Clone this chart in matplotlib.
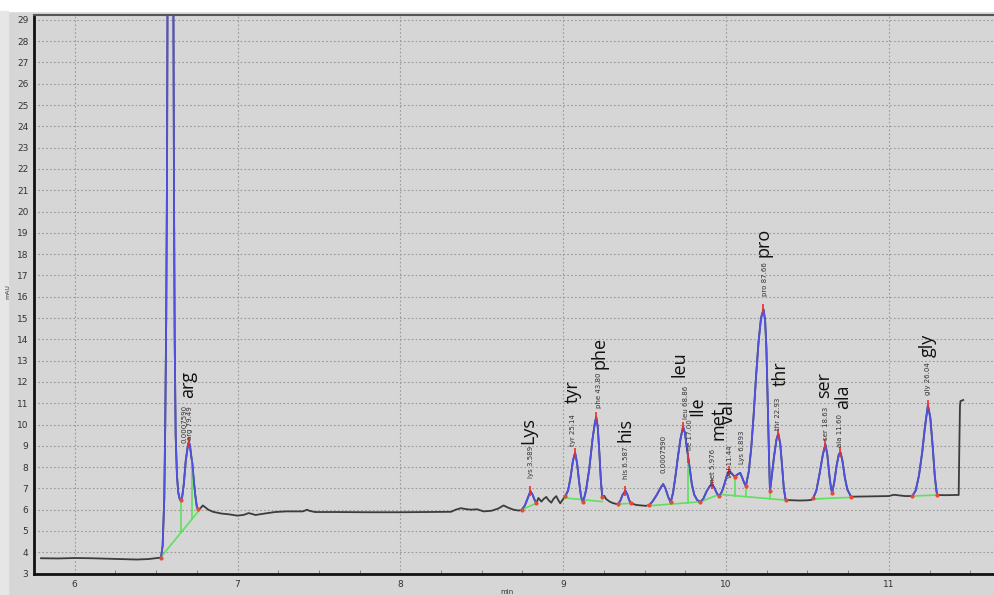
import numpy as np
import matplotlib.pyplot as plt
from matplotlib.patches import Rectangle

# retention time (min) / absorbance (mAU)
t = [5.793, 5.9, 6.0, 6.1, 6.2, 6.3, 6.38, 6.45,
     6.530, 6.540, 6.550, 6.556, 6.562, 6.567, 6.572, 6.580, 6.590, 6.600, 6.606,
     6.610, 6.614, 6.620, 6.628, 6.636, 6.645, 6.652, 6.660, 6.670, 6.682, 6.695,
     6.701, 6.708, 6.716, 6.722, 6.730, 6.740, 6.750, 6.756,
     6.770, 6.787, 6.80, 6.82, 6.85, 6.90, 6.95, 7.00, 7.04, 7.067, 7.09, 7.11,
     7.15, 7.23, 7.30, 7.40, 7.415, 7.427, 7.44, 7.476, 7.6, 7.8, 8.0, 8.2, 8.311,
     8.34, 8.372, 8.40, 8.433, 8.47, 8.512, 8.56, 8.60, 8.634, 8.66, 8.695, 8.725,
     8.744, 8.765, 8.785, 8.799, 8.812, 8.825, 8.835,
     8.848, 8.866, 8.88, 8.896, 8.91, 8.927, 8.94, 8.957, 8.97, 8.982, 8.995,
     9.012, 9.03, 9.045, 9.06, 9.073, 9.085, 9.098, 9.11, 9.122,
     9.14, 9.16, 9.18, 9.195, 9.203, 9.212, 9.222, 9.232, 9.240,
     9.252, 9.264, 9.285, 9.305, 9.32,
     9.335, 9.35, 9.365, 9.382, 9.395, 9.405, 9.416,
     9.45, 9.48, 9.508,
     9.529, 9.55, 9.575, 9.60, 9.614, 9.628, 9.645, 9.660,
     9.675, 9.69, 9.705, 9.72, 9.736, 9.748, 9.758, 9.768, 9.778, 9.79, 9.805,
     9.823, 9.843,
     9.86, 9.88, 9.90, 9.915, 9.93, 9.945, 9.959,
     9.975, 9.99, 10.005, 10.020, 10.035, 10.053, 10.07, 10.087, 10.10, 10.112,
     10.122,
     10.14, 10.155, 10.169, 10.185, 10.20, 10.215, 10.230, 10.24, 10.248, 10.255,
     10.26, 10.265, 10.270,
     10.28, 10.295, 10.31, 10.321, 10.333, 10.345, 10.355, 10.366,
     10.382, 10.45, 10.50, 10.524,
     10.535, 10.555, 10.575, 10.595, 10.610, 10.622, 10.635, 10.645, 10.652,
     10.665, 10.68, 10.693, 10.703, 10.715, 10.73, 10.745, 10.768,
     10.85, 10.95, 11.00, 11.03, 11.053, 11.10,
     11.144, 11.165, 11.185, 11.205, 11.222, 11.240, 11.255, 11.27, 11.282,
     11.292, 11.297,
     11.35, 11.40, 11.429, 11.433, 11.437, 11.440, 11.457]
mau = [3.72, 3.71, 3.73, 3.72, 3.70, 3.68, 3.66, 3.68,
       3.75, 4.3, 6.5, 10.0, 15.0, 22.0, 35.0, 55.0, 62.0, 50.0, 30.0,
       20.5, 14.0, 9.5, 7.6, 6.8, 6.5, 6.45, 6.6, 7.2, 8.3, 9.0,
       9.2, 9.0, 8.5, 8.2, 7.5, 6.7, 6.15, 6.03,
       6.05, 6.2, 6.12, 6.0, 5.9, 5.82, 5.78, 5.72, 5.76, 5.84, 5.8, 5.75,
       5.8, 5.89, 5.92, 5.92, 5.96, 6.0, 5.95, 5.89, 5.89, 5.88, 5.88, 5.89, 5.9,
       6.0, 6.07, 6.03, 6.0, 6.02, 5.92, 5.95, 6.05, 6.2, 6.1, 6.0, 5.96,
       5.98, 6.2, 6.6, 6.87, 6.7, 6.45, 6.31,
       6.55, 6.38, 6.5, 6.6, 6.45, 6.33, 6.5, 6.64, 6.45, 6.3, 6.45,
       6.62, 6.9, 7.5, 8.3, 8.68, 8.2, 7.3, 6.6, 6.34,
       6.9, 7.9, 9.3, 10.1, 10.34, 9.9, 8.7, 7.3, 6.61,
       6.65, 6.5, 6.38, 6.31, 6.28,
       6.26, 6.4, 6.7, 6.89, 6.7, 6.45, 6.3,
       6.22, 6.2, 6.18,
       6.22, 6.4, 6.7, 7.05, 7.2, 7.0, 6.6, 6.34,
       6.8, 7.6, 8.5, 9.3, 9.9, 9.6, 9.0, 8.45, 7.9, 7.2, 6.7,
       6.45, 6.37,
       6.5, 6.85, 7.1, 7.2, 7.0, 6.75, 6.64,
       6.85, 7.2, 7.6, 7.83, 7.7, 7.55, 7.65, 7.73, 7.5, 7.25,
       7.12,
       7.8, 8.9, 10.37, 12.3, 13.9, 15.0, 15.41, 14.9, 13.6,
       11.5, 9.8, 8.2, 6.89,
       7.5, 8.5, 9.3, 9.57, 9.1, 8.0, 7.0, 6.47,
       6.45, 6.43, 6.44, 6.46,
       6.53, 6.9, 7.7, 8.6, 9.07, 8.6, 7.6, 7.0, 6.8,
       7.3, 8.1, 8.6, 8.69, 8.3, 7.5, 6.95, 6.61,
       6.62, 6.63, 6.64, 6.7, 6.68, 6.64,
       6.64, 6.9, 7.6, 8.7, 9.9, 10.91, 10.3, 8.9, 7.6,
       6.9, 6.69,
       6.68, 6.69, 6.69, 9.0, 10.9, 11.1, 11.15]

# integrated windows (drawn blue)
peak_windows = [(6.530, 6.756), (8.744, 8.835), (9.012, 9.240), (9.335, 9.416),
                (9.529, 10.366), (10.535, 10.768), (11.144, 11.297)]

# labelled peaks
peak_names = ['arg', 'Lys', 'tyr', 'phe', 'his', 'leu', 'Ile', 'met', 'val',
              'pro', 'thr', 'ser', 'ala', 'gly']
peak_rt = [6.701, 8.799, 9.073, 9.203, 9.382, 9.736, 9.768, 9.915, 10.020,
           10.230, 10.321, 10.610, 10.703, 11.240]
peak_tags = ['arg 79.49', 'lys 3.589', 'tyr 25.14', 'phe 43.80', 'his 6.587',
             'leu 68.86', 'ile 17.00', 'met 5.976', 'val 11.44', 'pro 87.66',
             'thr 22.93', 'ser 18.63', 'ala 11.60', 'gly 26.04']
# unnamed peaks
extra_rt = [6.695, 9.614, 10.087]
extra_tags = ['0.0007590', '0.0007590', 'Lys 6.893']

boundary_rt = [6.530, 6.652, 6.756, 8.744, 8.835, 9.012, 9.122, 9.240, 9.335,
               9.416, 9.529, 9.660, 9.843, 9.959, 10.053, 10.122, 10.270,
               10.366, 10.535, 10.652, 10.768, 11.144, 11.297]

# baseline / drop lines
base_t = [[6.530, 6.762], [6.652, 6.652], [6.720, 6.720], [8.744, 8.835],
          [9.012, 9.240], [9.335, 9.416], [9.520, 9.843], [9.768, 9.768],
          [9.843, 9.959, 10.366], [10.053, 10.053], [10.122, 10.122],
          [10.270, 10.270], [10.535, 10.768], [11.144, 11.297]]
base_mau = [[3.78, 5.95], [6.45, 4.97], [8.33, 5.55], [6.00, 6.30],
            [6.55, 6.38], [6.26, 6.30], [6.18, 6.37], [8.41, 6.33],
            [6.37, 6.72, 6.45], [7.55, 6.66], [7.12, 6.62],
            [6.89, 6.52], [6.50, 6.58], [6.64, 6.69]]

t = np.array(t)
mau = np.array(mau)

bg = '#d6d6d6'
fig = plt.figure(figsize=(9.95, 5.95), dpi=100, facecolor=bg)
fig.patches.append(Rectangle((0, 1 - 11 / 595), 1, 11 / 595,
                             transform=fig.transFigure, color='white', zorder=0))
fig.patches.append(Rectangle((0, 0), 8 / 995, 1 - 11 / 595,
                             transform=fig.transFigure, color='#e6e6e6', zorder=0))
ax = fig.add_axes([34 / 995, 21 / 595, 1 - 34 / 995, 559 / 595])
ax.set_facecolor(bg)

ax.plot(t, mau, color='#3c3c3c', lw=1.3, zorder=3)
for a, b in peak_windows:
    m = (t >= a - 1e-9) & (t <= b + 1e-9)
    ax.plot(t[m], mau[m], color='#5050e2', lw=1.3, zorder=4)

for bx, by in zip(base_t, base_mau):
    ax.plot(bx, by, color='#5fe05f', lw=1.2, zorder=3.5)

apex_h = np.interp(peak_rt, t, mau)
ax.plot(peak_rt, apex_h, ls='none', marker='|', ms=7, mew=1.2, color='#e83030', zorder=5)
bnd_h = np.interp(boundary_rt, t, mau)
ax.plot(boundary_rt, bnd_h, ls='none', marker='o', ms=2, color='#e84a30', zorder=5)

# offsets in pixels for the small and big labels
tag_off = [(1, 18), (1, 29), (-2, 23), (3, 27), (1, 28), (3, 24), (2, 23),
           (1, 17), (1, 9), (2, 30), (0, 20), (1, 21), (0, 22), (0, 27)]
name_off = [(-1, 57), (-2, 61), (-2, 61), (3, 64), (0, 61), (-4, 62), (9, 51),
            (6, 61), (-1, 58), (0, 67), (2, 60), (-1, 59), (3, 56), (0, 60)]
for rt, h, tag, name, (tx, ty), (nx, ny) in zip(peak_rt, apex_h, peak_tags,
                                               peak_names, tag_off, name_off):
    ax.annotate(tag, (rt, h), xytext=(tx, ty), textcoords='offset pixels',
                rotation=90, ha='center', va='center', fontsize=5,
                color='#333333', zorder=6)
    ax.annotate(name, (rt, h), xytext=(nx, ny), textcoords='offset pixels',
                rotation=90, ha='center', va='center', fontsize=13,
                family='Open Sans', color='#111111', zorder=6)

extra_h = np.interp(extra_rt, t, mau)
extra_off = [(-3, 22), (0, 30), (2, 26)]
for rt, h, tag, (tx, ty) in zip(extra_rt, extra_h, extra_tags, extra_off):
    ax.annotate(tag, (rt, h), xytext=(tx, ty), textcoords='offset pixels',
                rotation=90, ha='center', va='center', fontsize=5,
                color='#333333', zorder=6)

ax.set_xlim(5.793, 11.652)
ax.set_ylim(2.98, 29.23)
ax.set_xticks(np.arange(6, 12))
ax.set_xticks(np.arange(5.75, 11.7, 0.25), minor=True)
ax.set_yticks(np.arange(3, 30))
ax.grid(True, which='major', color='#9a9a9a', ls=(0, (1.5, 2)), lw=0.8)
ax.tick_params(axis='both', which='major', length=0, labelsize=6.5,
               labelcolor='#333333', pad=4)
ax.tick_params(axis='x', which='minor', length=3, direction='in', color='#777777')
ax.tick_params(axis='y', which='minor', length=0)

for s in ['left', 'bottom']:
    ax.spines[s].set_linewidth(2)
    ax.spines[s].set_color('#111111')
ax.spines['top'].set_linewidth(1.5)
ax.spines['top'].set_color('#555555')
ax.spines['right'].set_visible(False)

fig.text(8 / 995, 1 - 292 / 595, 'mAU', rotation=90, fontsize=4.5,
         ha='center', va='center', color='#333333')
fig.text(507 / 995, 3 / 595, 'min', fontsize=5, ha='center', va='center',
         color='#333333')

fig.savefig('out.png', dpi=100, facecolor=bg)
